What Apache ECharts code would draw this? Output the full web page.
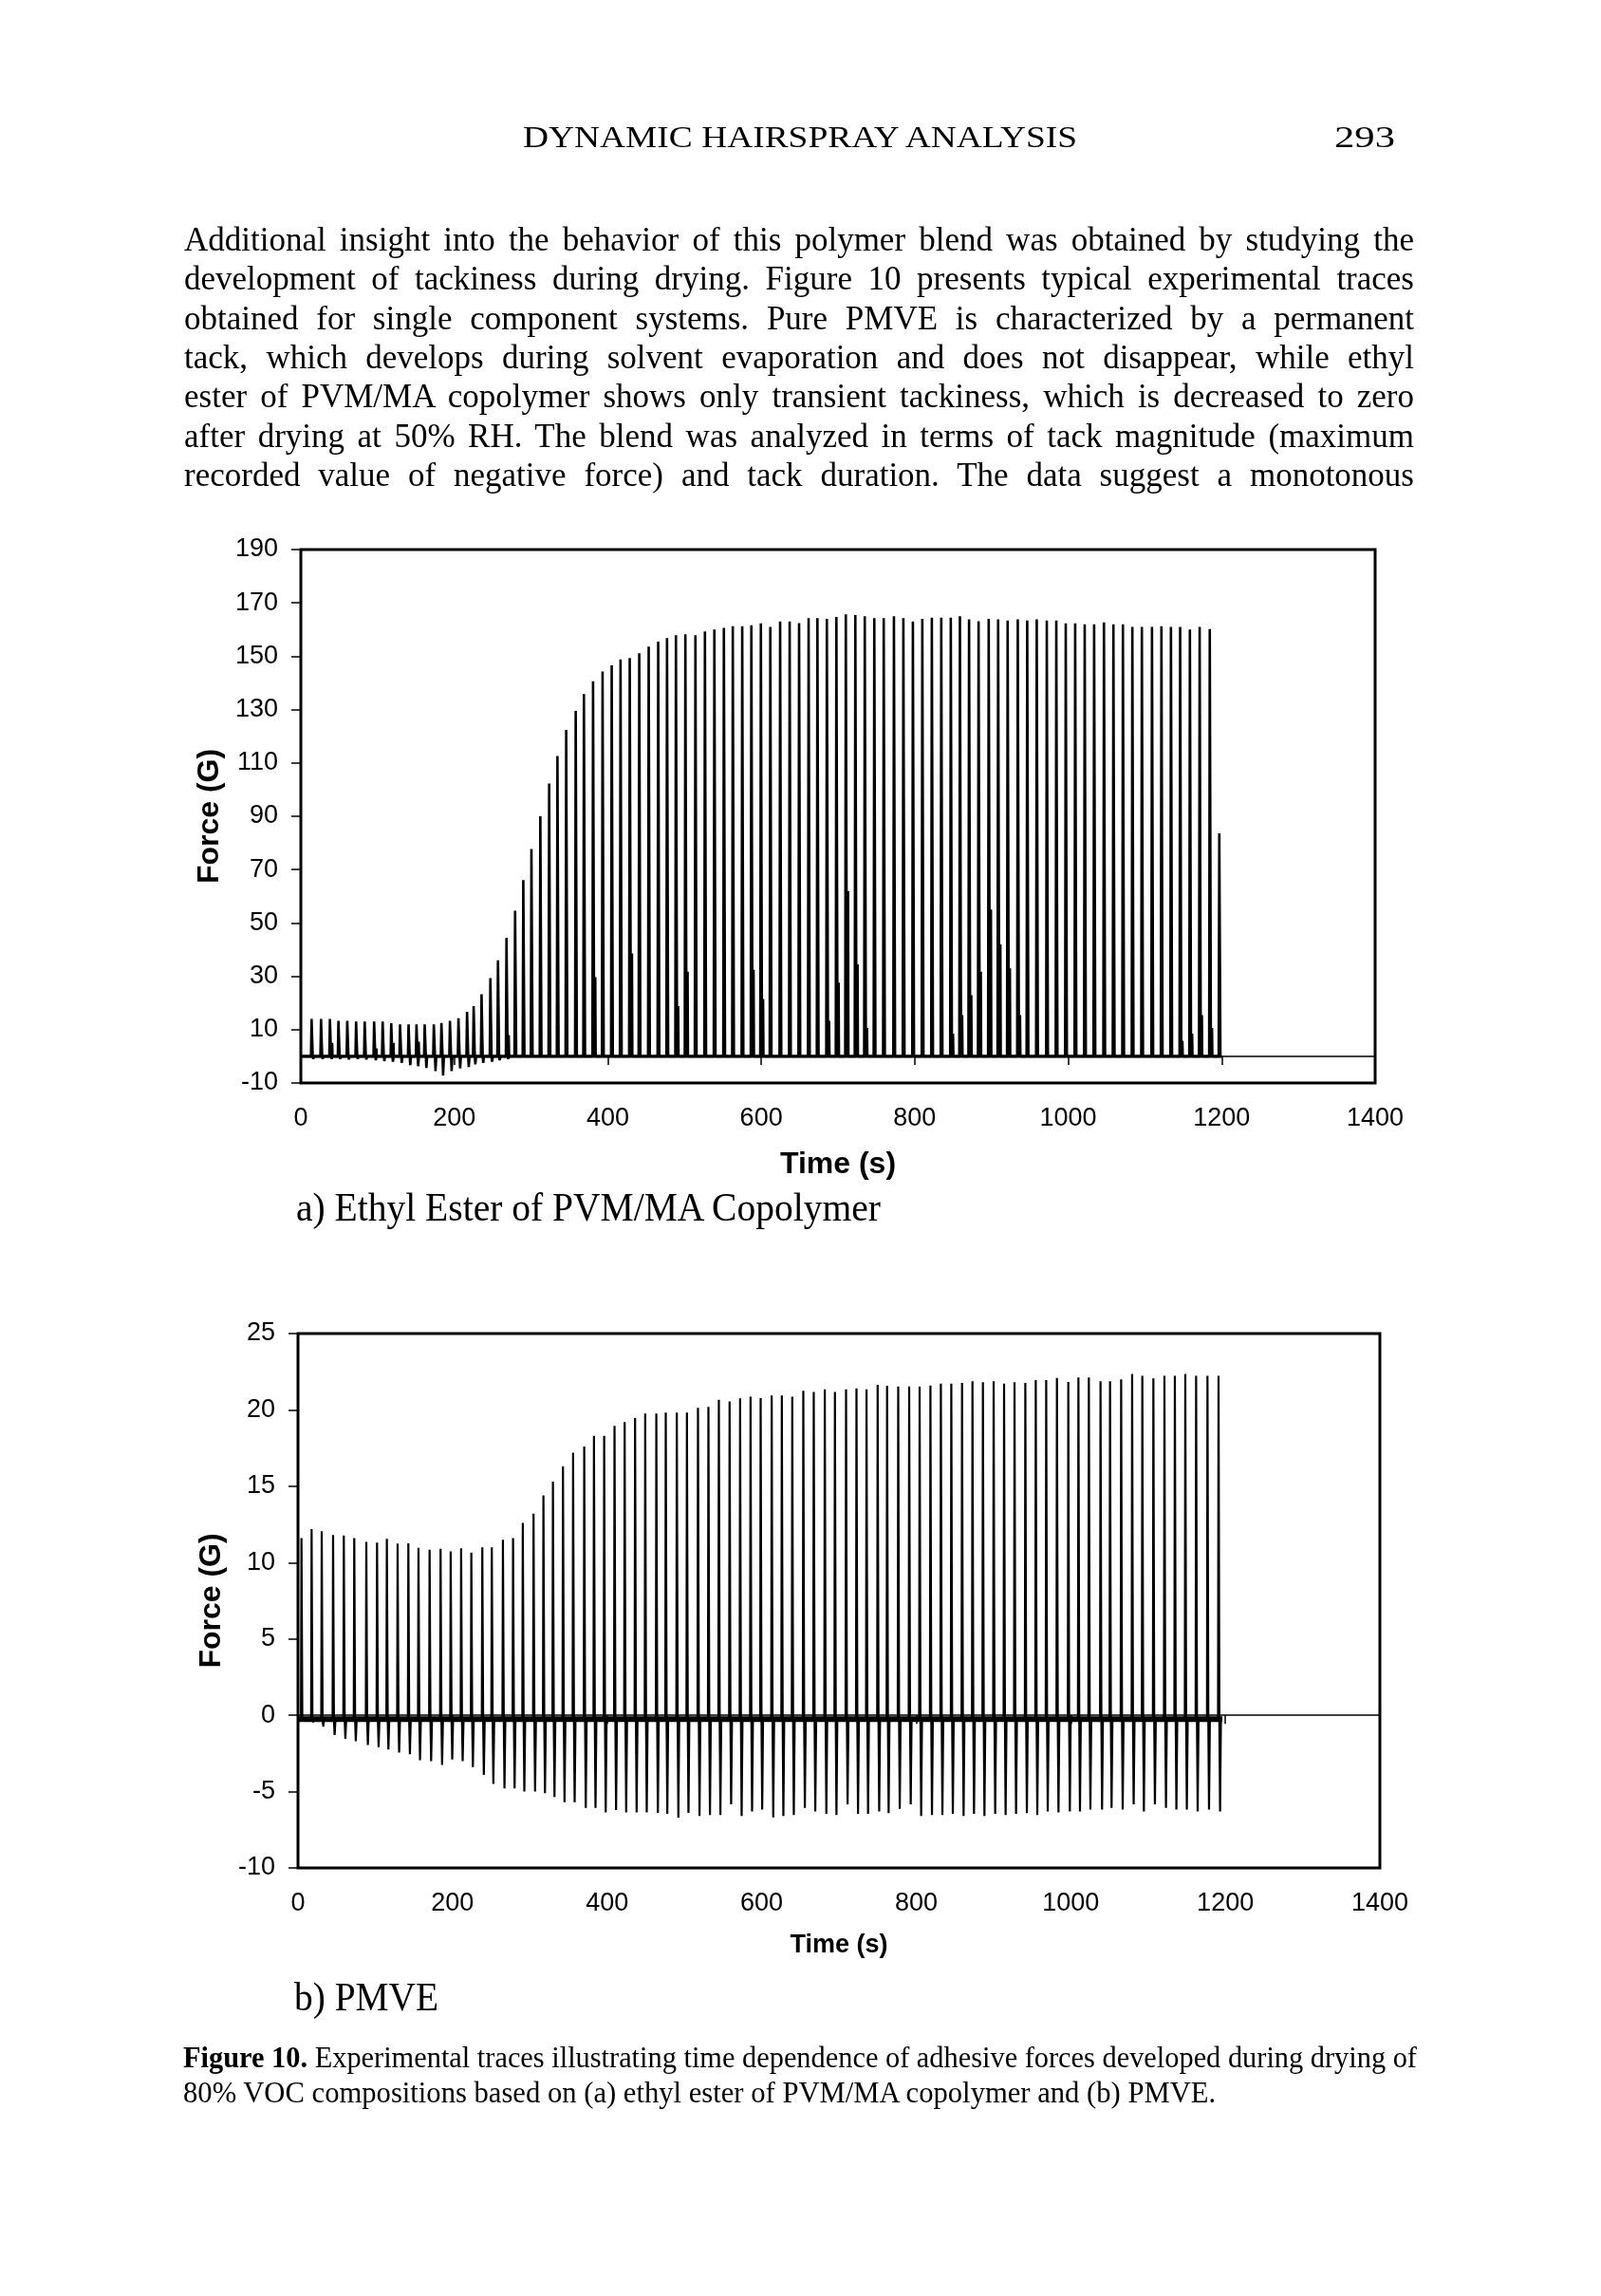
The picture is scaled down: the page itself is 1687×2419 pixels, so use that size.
<!DOCTYPE html>
<html>
<head>
<meta charset="utf-8">
<script src="https://cdn.jsdelivr.net/npm/echarts@6/dist/echarts.min.js"></script>
<style>
  html, body { margin: 0; padding: 0; background: #fff; }
  #page { position: relative; width: 1687px; height: 2419px; overflow: hidden; background: #fff; }
  #chart { position: absolute; left: 0; top: 0; width: 1687px; height: 2419px; }
  #text { position: absolute; left: 0; top: 0; width: 1687px; height: 2419px; pointer-events: none; }
</style>
</head>
<body>
<div id="page">
  <div id="chart"></div>
  <div id="text"></div>
</div>
<script>
// ---------------- DATA ----------------
// (a) Ethyl ester of PVM/MA copolymer: time of each spike (s), its peak force (G)
const timeA = [14.0, 26.3, 37.9, 49.0, 60.5, 72.0, 83.2, 95.5, 106.6, 117.8,
  129.3, 140.4, 150.7, 161.4, 173.3, 183.2, 194.3, 205.4, 216.6, 225.2,
  235.5, 247.0, 256.9, 268.0, 279.2, 289.9, 300.5, 312.1, 323.6, 334.4,
  345.8, 358.2, 368.9, 380.8, 393.2, 405.1, 416.6, 428.6, 441.0, 453.3,
  465.7, 477.2, 488.8, 501.1,
  514.2, 526.6, 538.9, 551.3, 562.9, 575.2, 587.1, 599.5, 611.8, 624.6,
  637.0, 649.3, 661.7, 673.2, 685.5, 697.9, 710.2, 722.6, 734.9, 747.3,
  759.6, 772.9, 785.2, 797.6, 809.9, 822.3, 834.6, 847.0, 858.9, 870.8,
  883.2, 896.4, 908.7, 921.1, 934.3, 946.6, 959.0, 972.1, 984.5,
  996.8, 1009.1, 1021.5, 1033.8, 1046.6, 1058.9, 1071.3, 1083.6, 1096.0, 1109.2,
  1121.5, 1133.9, 1145.9, 1158.6, 1171.3, 1184.5, 1196.9];
const peakA = [14, 14, 14, 13.3, 13.3, 13, 13, 13, 13, 12.4,
  12, 12, 12, 12, 12, 12.5, 13.3, 14.3, 16.7, 18.8,
  23.3, 29.3, 36, 44.4, 54.6, 66.1, 77.7, 90, 102.3, 112.6,
  122.4, 129.5, 135.8, 140.6, 144.3, 146.6, 148.8, 149.3, 151.1, 153.6,
  155.5, 156.8, 157.9, 158.2,
  157.9, 159.3, 160, 160.6, 161.3, 161.3, 161.6, 162.3, 161, 163,
  163, 162.4, 164.3, 164.3, 164, 164.7, 165.7, 165.4, 165, 164.3,
  164.3, 165, 164.3, 163, 164, 164.5, 164.5, 164.5, 165, 163.8,
  163.1, 164, 163.8, 163.4, 163.8, 163.4, 163.8, 163.4, 163.4,
  162.3, 162.3, 162, 162, 162.7, 162, 162, 161, 161, 161,
  161.3, 161, 161, 160, 161, 160.2, 83.6];
// negative dip following each of the first spikes of (a)
const dipA = [-1, -1, -1, -1, -1.2, -1, -1.2, -1.5, -1.8, -2,
  -2.5, -3.3, -3.7, -4.4, -5.5, -7.2, -5.5, -4.5, -4, -3,
  -2.5, -2, -1.5, -1, -0.5];
// small secondary spikes of (a): spike index and height (G)
const secAIdx = [2, 7, 9, 12, 23, 33, 37, 42, 43, 50, 51, 58, 59, 60, 61, 62,
  71, 72, 73, 74, 75, 76, 77, 78, 95, 96, 97, 98];
const secAVal = [5, 3, 5, 5.5, 8, 29.7, 38.6, 18.8, 31.7, 32.4, 21.5, 13.3, 27.6, 62, 34.5, 10.6,
  8.5, 15.4, 22.9, 31.7, 55, 42, 33, 15.4, 5.8, 8.5, 15.4, 10.6];
const baseA = 0;

// (b) PMVE: time of each spike (s), peak force (G), negative dip (G)
const timeB = [4.5, 17.6, 30.7, 45.4, 59.3, 72.8, 88.4, 102.3, 115.0, 128.9,
  142.8, 155.9, 170.3, 184.5, 197.6, 211.1, 224.3, 238.5, 250.8, 265.2,
  278.3, 290.9, 304.8, 317.6, 329.9, 342.9, 356.0, 370.4, 383.0, 396.2,
  409.6, 422.7, 436.2, 449.3, 463.7, 475.9, 490.2, 503.3,
  517.6, 531.1, 544.6, 558.5, 572.1, 585.6, 598.7, 613.0, 626.1, 639.6,
  653.9, 667.4, 681.7, 694.8, 709.2, 722.7, 735.7, 750.1, 762.3, 776.7,
  790.9, 804.4, 818.4, 831.9, 845.4, 859.3, 872.8, 886.3, 900.2, 913.7,
  927.2, 941.2, 954.7, 968.2, 982.1,
  996.8, 1009.9, 1023.4, 1038.5, 1050.8, 1065.2, 1079.4, 1092.6, 1106.9, 1121.2,
  1134.7, 1148.2, 1162.2, 1176.9, 1191.2];
const peakB = [11.6, 12.2, 12.06, 11.8, 11.78, 11.6, 11.36, 11.3, 11.55, 11.24,
  11.26, 10.96, 10.84, 10.9, 10.73, 10.94, 10.66, 11.0, 11.0, 11.5,
  11.6, 12.6, 13.2, 14.4, 15.3, 16.3, 17.2, 17.6, 18.3, 18.3,
  18.96, 19.2, 19.47, 19.77, 19.77, 19.82, 19.82, 19.82,
  20.13, 20.2, 20.66, 20.55, 20.76, 20.87, 20.78, 20.94, 20.94, 20.87,
  21.25, 21.18, 21.34, 21.18, 21.34, 21.41, 21.34, 21.65, 21.58, 21.53,
  21.53, 21.53, 21.6, 21.72, 21.72, 21.76, 21.88, 21.81, 21.88, 21.72,
  21.81, 21.76, 21.95, 21.95, 22.1,
  21.83, 22.12, 22.12, 21.88, 21.88, 22.0, 22.35, 22.23, 22.07, 22.23,
  22.23, 22.35, 22.23, 22.23, 22.23];
const dipB = [-0.3, -0.45, -0.75, -1.3, -1.55, -1.7, -1.95, -2.08, -2.25, -2.44,
  -2.55, -2.95, -3.0, -3.26, -2.9, -3.0, -3.4, -3.9, -4.5, -4.8,
  -4.8, -5.0, -5.0, -5.1, -5.36, -5.7, -5.7, -6.06, -6.06, -6.36,
  -6.2, -6.36, -6.36, -6.36, -6.4, -6.45, -6.7, -6.4,
  -6.6, -6.53, -6.53, -5.83, -6.6, -6.3, -6.18, -6.69, -6.6, -6.53,
  -6.06, -6.3, -6.46, -6.53, -5.83, -6.46, -6.46, -6.3, -6.41, -6.13,
  -5.83, -6.6, -6.53, -6.53, -6.46, -6.6, -6.46, -6.6, -6.46, -6.53,
  -6.46, -6.41, -6.53, -6.3, -6.36,
  -6.3, -6.3, -6.18, -6.18, -6.06, -6.18, -5.83, -6.3, -5.83, -6.06,
  -6.18, -6.18, -6.3, -6.18, -6.3];
const baseB = -0.25;

// axis ticks
const yTicksA = [-10, 10, 30, 50, 70, 90, 110, 130, 150, 170, 190];
const yTicksB = [-10, -5, 0, 5, 10, 15, 20, 25];
const xTicks = [0, 200, 400, 600, 800, 1000, 1200, 1400];

// texts
const headerTitle = 'DYNAMIC HAIRSPRAY ANALYSIS';
const pageNumber = '293';
const paragraphLines = [
  'Additional insight into the behavior of this polymer blend was obtained by studying the',
  'development of tackiness during drying. Figure 10 presents typical experimental traces',
  'obtained for single component systems. Pure PMVE is characterized by a permanent',
  'tack, which develops during solvent evaporation and does not disappear, while ethyl',
  'ester of PVM/MA copolymer shows only transient tackiness, which is decreased to zero',
  'after drying at 50% RH. The blend was analyzed in terms of tack magnitude (maximum',
  'recorded value of negative force) and tack duration. The data suggest a monotonous'
];
const labelA = 'a) Ethyl Ester of PVM/MA Copolymer';
const labelB = 'b) PMVE';
const captionHead = 'Figure 10.';
const captionLines = [
  ' Experimental traces illustrating time dependence of adhesive forces developed during drying of',
  '80% VOC compositions based on (a) ethyl ester of PVM/MA copolymer and (b) PMVE.'
];
const axisTitleY = 'Force (G)';
const axisTitleX = 'Time (s)';

// ---------------- TRACE BUILDING ----------------
function traceA() {
  const pts = [[0, baseA]];
  for (let i = 0; i < timeA.length; i++) {
    const t = timeA[i];
    pts.push([t - 0.8, baseA], [t, peakA[i]], [t + 1.5, baseA]);
    if (i < dipA.length) pts.push([t + 2.2, dipA[i]], [t + 3.2, baseA]);
    const k = secAIdx.indexOf(i);
    if (k >= 0) pts.push([t + 2.4, baseA], [t + 2.9, secAVal[k]], [t + 3.4, baseA]);
  }
  pts.push([timeA[timeA.length - 1] + 3, baseA]);
  return pts;
}
function traceB() {
  const pts = [[0, baseB]];
  for (let i = 0; i < timeB.length; i++) {
    const t = timeB[i];
    pts.push([t - 0.6, baseB], [t, peakB[i]], [t + 1.1, baseB], [t + 2.0, dipB[i]], [t + 3.1, baseB]);
  }
  pts.push([timeB[timeB.length - 1] + 5, baseB]);
  return pts;
}

// ---------------- CHART ----------------
const SANS = '"Liberation Sans", Arial, Helvetica, sans-serif';
const SERIF = '"Liberation Serif", "Times New Roman", Times, serif';
const chart = echarts.init(document.getElementById('chart'), null, { renderer: 'canvas' });

function zeroXAxis(grid) {
  return {
    gridIndex: grid, type: 'value', min: 0, max: 1400, interval: 200, position: 'bottom',
    axisLine: { show: true, onZero: true, lineStyle: { color: '#000', width: 1.5 } },
    axisTick: { show: true, length: 9, lineStyle: { color: '#000', width: 1.5 } },
    axisLabel: { show: false }, splitLine: { show: false }
  };
}
function labelXAxis(grid, nameSize, nameGap) {
  return {
    gridIndex: grid, type: 'value', min: 0, max: 1400, interval: 200, position: 'bottom',
    axisLine: { show: false, onZero: false }, axisTick: { show: false },
    axisLabel: { show: true, margin: 24, fontSize: 27, color: '#000', fontFamily: SANS,
      customValues: xTicks, formatter: function (v) { return String(v); } },
    splitLine: { show: false },
    name: axisTitleX, nameLocation: 'middle', nameGap: nameGap,
    nameTextStyle: { fontFamily: SANS, fontWeight: 'bold', fontSize: nameSize, color: '#000' }
  };
}
function yAxisDef(grid, min, max, ticks, gap, lblSize) {
  return {
    gridIndex: grid, type: 'value', min: min, max: max,
    axisLine: { show: true, lineStyle: { color: '#000', width: 2 } },
    axisTick: { show: true, inside: false, length: 10, customValues: ticks, lineStyle: { color: '#000', width: 1.5 } },
    axisLabel: { show: true, customValues: ticks, margin: 24, fontSize: lblSize, color: '#000', fontFamily: SANS,
      formatter: function (v) { return String(v); } },
    splitLine: { show: false },
    name: axisTitleY, nameLocation: 'middle', nameGap: gap, nameRotate: 90,
    nameTextStyle: { fontFamily: SANS, fontWeight: 'bold', fontSize: 32, color: '#000' }
  };
}

const option = {
  animation: false,
  backgroundColor: '#fff',
  grid: [
    { left: 317, top: 579, width: 1132, height: 562, show: true, borderColor: '#000', borderWidth: 3, backgroundColor: 'rgba(0,0,0,0)', containLabel: false },
    { left: 314, top: 1405, width: 1140, height: 563, show: true, borderColor: '#000', borderWidth: 3, backgroundColor: 'rgba(0,0,0,0)', containLabel: false }
  ],
  xAxis: [zeroXAxis(0), labelXAxis(0, 32, 70), zeroXAxis(1), labelXAxis(1, 27, 68)],
  yAxis: [yAxisDef(0, -10, 190, yTicksA, 80, 27), yAxisDef(1, -10, 25, yTicksB, 75, 27)],
  series: [
    { type: 'line', xAxisIndex: 0, yAxisIndex: 0, data: traceA(), showSymbol: false, symbol: 'none',
      lineStyle: { color: '#000', width: 2.6 }, silent: true, sampling: null },
    { type: 'line', xAxisIndex: 0, yAxisIndex: 0, data: [[0, baseA], [timeA[timeA.length - 1] + 3, baseA]],
      showSymbol: false, symbol: 'none', lineStyle: { color: '#000', width: 3 }, silent: true },
    { type: 'line', xAxisIndex: 2, yAxisIndex: 1, data: traceB(), showSymbol: false, symbol: 'none',
      lineStyle: { color: '#000', width: 2.2 }, silent: true },
    { type: 'line', xAxisIndex: 2, yAxisIndex: 1, data: [[0, baseB], [timeB[timeB.length - 1] + 5, baseB]],
      showSymbol: false, symbol: 'none', lineStyle: { color: '#000', width: 6 }, silent: true }
  ]
};
chart.setOption(option);

// ---------------- PAGE TEXT ----------------
const layer = document.getElementById('text');
function addLine(html, o) {
  const el = document.createElement('span');
  el.innerHTML = html;
  el.style.cssText = 'position:absolute;white-space:nowrap;color:#000;transform-origin:0 50%;' +
    'font-family:' + (o.family || SERIF) + ';font-size:' + o.fs + 'px;line-height:' + o.fs + 'px;' +
    'font-weight:' + (o.weight || 'normal') + ';top:' + (o.cy - 0.54 * o.fs) + 'px;left:' + (o.left || 0) + 'px;';
  layer.appendChild(el);
  const w = el.getBoundingClientRect().width;
  if (o.mode === 'justify') {
    const n = (el.textContent.match(/ /g) || []).length;
    const extra = o.width - w;
    if (extra >= 0 && n > 0) el.style.wordSpacing = (extra / n) + 'px';
    else el.style.transform = 'scaleX(' + (o.width / w) + ')';
  } else if (o.mode === 'scale') {
    el.style.transform = 'scaleX(' + (o.width / w) + ')';
  } else if (o.mode === 'right') {
    el.style.left = (o.right - w) + 'px';
  }
  return el;
}
function measure(html, fs, family) {
  const el = document.createElement('span');
  el.innerHTML = html;
  el.style.cssText = 'position:absolute;visibility:hidden;white-space:nowrap;font-family:' + (family || SERIF) + ';font-size:' + fs + 'px;';
  layer.appendChild(el);
  const w = el.getBoundingClientRect().width;
  layer.removeChild(el);
  return w;
}

// header
addLine(headerTitle, { fs: 31, cy: 146, left: 551, width: 584, mode: 'scale' });
addLine(pageNumber, { fs: 31, cy: 146, left: 1406, width: 64, mode: 'scale' });

// paragraph
const TXT_L = 194, TXT_W = 1296;
let pfs = 32 * 1270 / measure(paragraphLines[0], 32);
pfs = Math.max(28, Math.min(35, pfs));
paragraphLines.forEach((ln, i) => {
  addLine(ln, { fs: pfs, cy: 254 + 41.3 * i, left: TXT_L, width: TXT_W, mode: 'justify' });
});

// figure labels
addLine(labelA, { fs: 42, cy: 1274, left: 312, width: 616, mode: 'scale' });
addLine(labelB, { fs: 42, cy: 2106, left: 310, width: 152, mode: 'scale' });

// caption
let cfs = 28 * 1089 / measure(captionLines[1], 28);
cfs = Math.max(24, Math.min(31, cfs));
addLine('<b>' + captionHead + '</b>' + captionLines[0], { fs: cfs, cy: 2170, left: 193, width: 1300, mode: 'justify' });
addLine(captionLines[1], { fs: cfs, cy: 2207, left: 193 });
</script>
</body>
</html>
